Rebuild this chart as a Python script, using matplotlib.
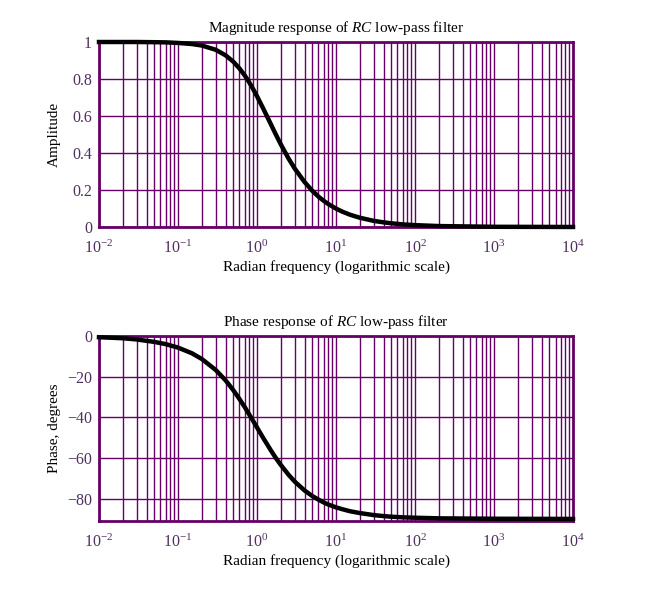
import numpy as np
import matplotlib.pyplot as plt
from matplotlib.ticker import LogLocator, FixedLocator

plt.rcParams['font.family'] = 'Liberation Serif'
plt.rcParams['mathtext.fontset'] = 'custom'
plt.rcParams['mathtext.rm'] = 'Liberation Serif'
plt.rcParams['mathtext.it'] = 'Liberation Serif:italic'

# radian frequency samples
freq = [0.01, 0.02, 0.03, 0.05, 0.07, 0.1, 0.15, 0.2, 0.3, 0.4, 0.5, 0.6,
        0.7, 0.8, 0.9, 1.0, 1.2, 1.5, 1.75, 2.0, 2.5, 3.0, 4.0, 5.0, 6.0,
        7.0, 8.0, 10.0, 12.0, 15.0, 20.0, 30.0, 40.0, 50.0, 70.0, 100.0,
        200.0, 1000.0, 10000.0]

# amplitude
amplitude = [1.0, 1.0, 1.0, 0.999, 0.998, 0.995, 0.989, 0.981, 0.958, 0.928,
             0.894, 0.857, 0.819, 0.781, 0.743, 0.707, 0.640, 0.555, 0.496,
             0.447, 0.371, 0.316, 0.243, 0.196, 0.164, 0.141, 0.124, 0.0995,
             0.083, 0.0665, 0.050, 0.033, 0.025, 0.020, 0.014, 0.010, 0.005,
             0.001, 0.0]

# phase (degrees)
phase = [-0.6, -1.1, -1.7, -2.9, -4.0, -5.7, -8.5, -11.3, -16.7, -21.8,
         -26.6, -31.0, -35.0, -38.7, -42.0, -45.0, -50.2, -56.3, -60.3,
         -63.4, -68.2, -71.6, -76.0, -78.7, -80.5, -81.9, -82.9, -84.3,
         -85.2, -86.2, -87.1, -88.1, -88.6, -88.9, -89.2, -89.4, -89.7,
         -89.9, -90.0]

purple = '#660066'
tick_col = '#503060'

fig = plt.figure(figsize=(6.63, 6.0), dpi=100)
ax1 = fig.add_axes([0.1493, 0.6217, 0.715, 0.3083])
ax2 = fig.add_axes([0.1493, 0.1317, 0.715, 0.3083])


def style(ax, yticks, ylim):
    ax.set_xscale('log')
    ax.set_xlim(1e-2, 1e4)
    ax.set_ylim(*ylim)
    ax.xaxis.set_major_locator(LogLocator(base=10, numticks=10))
    ax.xaxis.set_minor_locator(LogLocator(base=10, subs=np.arange(2, 10), numticks=100))
    ax.yaxis.set_major_locator(FixedLocator(yticks))
    ax.grid(True, which='major', axis='both', color=purple, lw=1.0)
    ax.grid(True, which='minor', axis='x', color=purple, lw=1.0)
    for s in ax.spines.values():
        s.set_color(purple)
        s.set_linewidth(2.0)
    ax.tick_params(which='both', length=0, labelsize=11.5, labelcolor=tick_col)
    ax.tick_params(axis='x', pad=9)
    ax.tick_params(axis='y', pad=5)
    ax.set_axisbelow(True)


ax1.plot(freq, amplitude, color='black', lw=3.2, clip_on=False, zorder=5)
style(ax1, [0, 0.2, 0.4, 0.6, 0.8, 1.0], (0, 1))
ax1.set_yticklabels(['0', '0.2', '0.4', '0.6', '0.8', '1'])
ax1.set_title(r'Magnitude response of $\it{RC}$ low-pass filter', fontsize=11, pad=7)
ax1.set_xlabel('Radian frequency (logarithmic scale)', fontsize=11, labelpad=2)
ax1.set_ylabel('Amplitude', fontsize=11, labelpad=8)

ax2.plot(freq, phase, color='black', lw=3.2, clip_on=False, zorder=5)
style(ax2, [0, -20, -40, -60, -80], (-91, 0))
ax2.set_yticklabels(['0', '\u221220', '\u221240', '\u221260', '\u221280'])
ax2.set_title(r'Phase response of $\it{RC}$ low-pass filter', fontsize=11, pad=7)
ax2.set_xlabel('Radian frequency (logarithmic scale)', fontsize=11, labelpad=2)
ax2.set_ylabel('Phase, degrees', fontsize=11, labelpad=4)

plt.savefig('out.png', dpi=100)
